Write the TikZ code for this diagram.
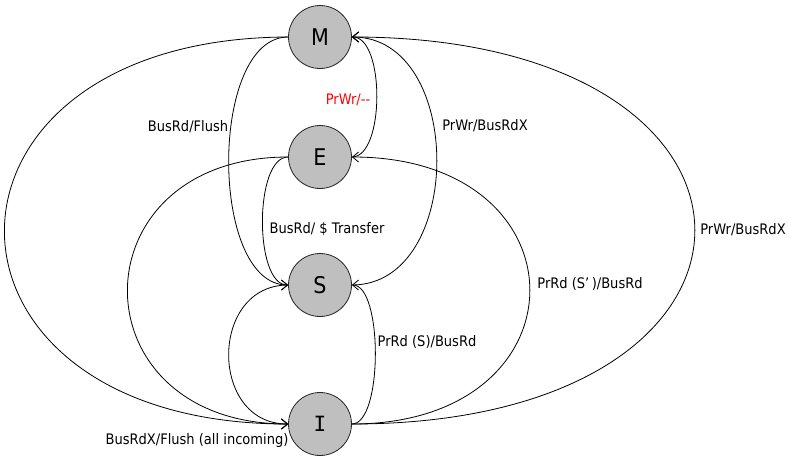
\documentclass[tikz,border=0pt]{standalone}
\usepackage{fontspec}
\setmainfont[FakeStretch=0.9]{DejaVu Sans}
\newfontfamily\statemono{DejaVu Sans Mono}
\usetikzlibrary{arrows.meta}
\begin{document}
\begin{tikzpicture}[x=1pt,y=-1pt,
  state/.style={circle,draw=black!85,fill=black!25,line width=0.8pt,
    minimum size=63pt,inner sep=0pt,font=\fontsize{23}{23}\selectfont},
  trans/.style={draw,line width=0.8pt,-{Straight Barb[length=6pt,width=10pt]}},
  lbl/.style={font=\fontsize{14.5}{16}\selectfont,inner sep=0pt}]
\useasboundingbox (0,0) rectangle (789,455);

% MESI states
\node[state] (M) at (320,37)  {M};
\node[state] (E) at (320,157) {E};
\node[state] (S) at (320,285) {S};
\node[state,font=\statemono\fontsize{21}{21}\selectfont] (I) at (320,424) {I};

% left side transitions
\draw[trans] (M.west) .. controls (-90,38) and (-90,424) .. (I.west);
\draw[trans] (E.west) .. controls (74,157) and (74,424) .. (I.west);
\draw[trans] (S.west) .. controls (209,285) and (209,424) .. (I.west);
\draw[trans] (M.west) .. controls (209,37) and (209,285) .. (S.west);
\draw[trans] (E.west) .. controls (254,157) and (254,285) .. (S.west);

% right side transitions
\draw[trans] (I.east) .. controls (809,424) and (809,37) .. (M.east);
\draw[trans] (I.east) .. controls (589,424) and (589,157) .. (E.east);
\draw[trans] (I.east) .. controls (383,424) and (383,285) .. (S.east);
\draw[trans] (S.east) .. controls (465,285) and (465,37) .. (M.east);
\draw[trans] (E.east) .. controls (385,157) and (385,37) .. (M.east);

% transition labels
\node[lbl] (l1) at (188,127) {BusRd/Flush};
\node[lbl,text=red] (l2) at (348,100) {PrWr/-{}-};
\node[lbl] (l3) at (485,126) {PrWr/BusRdX};
\node[lbl] (l4) at (327,229) {BusRd/ \$ Transfer};
\node[lbl] (l5) at (590,284) {PrRd (S’\,)/BusRd};
\node[lbl] (l6) at (427,342) {PrRd (S)/BusRd};
\node[lbl] (l7) at (743,230) {PrWr/BusRdX};
\node[lbl] (l8) at (197,440) {BusRdX/Flush (all incoming)};
\end{tikzpicture}
\end{document}
